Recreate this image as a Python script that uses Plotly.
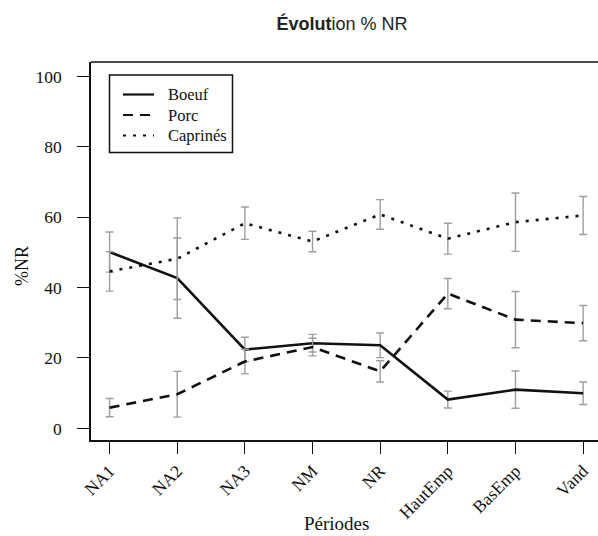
import plotly.graph_objects as go

periodes = ["NA1", "NA2", "NA3", "NM", "NR", "HautEmp", "BasEmp", "Vand"]

boeuf = [50.1, 42.7, 22.4, 24.2, 23.6, 8.2, 11.0, 10.0]
boeuf_err = [5.7, 11.4, 3.5, 2.5, 3.5, 2.4, 5.3, 3.2]

porc = [5.9, 9.7, 19.0, 23.1, 16.2, 38.3, 30.9, 29.9]
porc_err = [2.6, 6.5, 3.5, 2.5, 3.0, 4.3, 8.0, 5.0]

caprines = [44.6, 48.2, 58.3, 53.1, 60.8, 53.9, 58.6, 60.5]
caprines_err = [5.6, 11.6, 4.6, 2.9, 4.2, 4.4, 8.3, 5.4]

y_ticks = [0, 20, 40, 60, 80, 100]

SERIF = "Liberation Serif"
ERR_COLOR = "#a39d9d"
INK = "#111111"

series = [
    ("Boeuf", boeuf, boeuf_err, "solid"),
    ("Porc", porc, porc_err, "10px,7px"),
    ("Caprinés", caprines, caprines_err, "3px,7px"),
]

# plot-area geometry in pixels (for the hand-drawn legend box)
L, R, T, B = 91, 598, 62, 440
def px(X):
    return (X - L) / (R - L)
def py(Y):
    return (B - Y) / (B - T)

fig = go.Figure()
for name, vals, errs, dash in series:
    fig.add_trace(go.Scatter(
        x=periodes, y=vals, name=name, mode="lines",
        line=dict(color=INK, width=2.6, dash=dash),
        error_y=dict(type="data", array=errs, visible=True,
                     color=ERR_COLOR, thickness=1.4, width=4),
    ))

shapes = [
    # top edge of the frame (frame continues past the right edge of the picture)
    dict(type="line", xref="paper", yref="paper", x0=0, x1=1.01, y0=1, y1=1,
         line=dict(color=INK, width=1.6), layer="above"),
    dict(type="rect", xref="paper", yref="paper",
         x0=px(109.5), x1=px(232.5), y0=py(152.5), y1=py(75),
         line=dict(color=INK, width=1.5), fillcolor="white", layer="above"),
]
annotations = []
legend_rows = [94.5, 115, 135.5]
for (name, _, _, dash), yrow in zip(series, legend_rows):
    shapes.append(dict(type="line", xref="paper", yref="paper",
                       x0=px(123), x1=px(154), y0=py(yrow), y1=py(yrow),
                       line=dict(color=INK, width=2.2, dash=dash), layer="above"))
    annotations.append(dict(text=name, xref="paper", yref="paper",
                            x=px(166), y=py(yrow), xanchor="left", yanchor="middle",
                            showarrow=False, font=dict(family=SERIF, size=16.5, color=INK)))

annotations += [
    dict(text="Périodes", xref="paper", yref="paper",
         x=px(336), y=py(523), xanchor="center", yanchor="middle",
         showarrow=False, font=dict(family=SERIF, size=19, color=INK)),
    dict(text="%NR", xref="paper", yref="paper",
         x=px(22), y=py(266), xanchor="center", yanchor="middle",
         textangle=-90, showarrow=False, font=dict(family=SERIF, size=18, color=INK)),
]

fig.update_layout(
    template="none",
    width=598, height=536,
    margin=dict(l=L, r=598 - R, t=T, b=536 - B, autoexpand=False),
    paper_bgcolor="white", plot_bgcolor="white",
    title=dict(text="<b>Évolut</b>ion % NR", x=342/598, xanchor="center",
               y=1 - 24/536, yanchor="middle",
               font=dict(family="Liberation Sans, Arial, sans-serif", size=18, color="#222222")),
    showlegend=False,
    xaxis=dict(
        type="category", range=[-0.275, 7.22], automargin=False,
        showline=True, linecolor=INK, linewidth=1.6, mirror=False,
        ticks="outside", ticklen=12, tickwidth=1.4, tickcolor=INK,
        tickangle=-45, showgrid=False, zeroline=False,
        tickfont=dict(family=SERIF, size=17.5, color=INK),
    ),
    yaxis=dict(
        range=[-3.3, 104.1], tickvals=y_ticks, automargin=False,
        showline=True, linecolor=INK, linewidth=1.6, mirror=False,
        ticks="outside", ticklen=12, tickwidth=1.4, tickcolor=INK,
        ticklabelstandoff=12, showgrid=False, zeroline=False,
        tickfont=dict(family=SERIF, size=17.5, color=INK),
    ),
    shapes=shapes,
    annotations=annotations,
)

fig.write_html("out.html", config={"displayModeBar": False},
               post_script="document.body.style.margin='0px';document.body.style.overflow='hidden';")
